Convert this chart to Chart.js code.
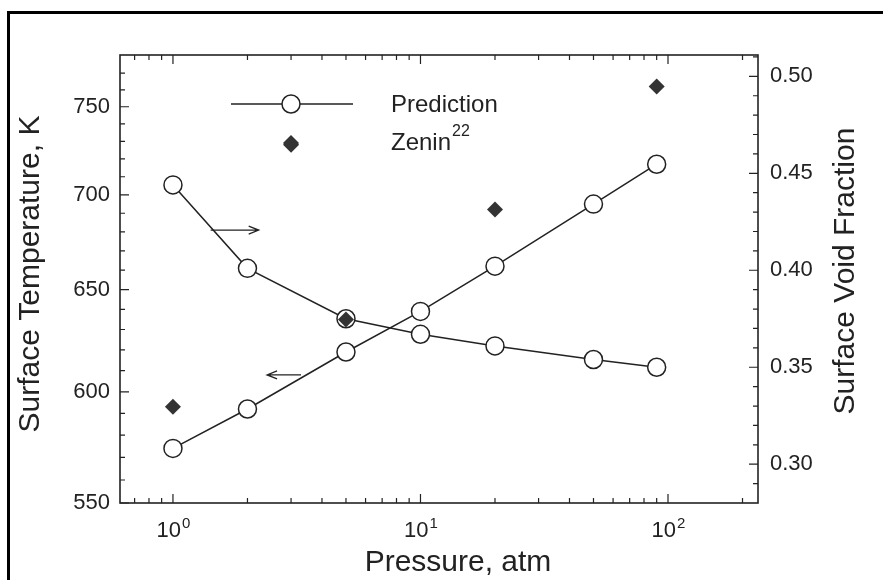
<!DOCTYPE html>
<html>
<head>
<meta charset="utf-8">
<title>Surface temperature and void fraction vs pressure</title>
<script src="https://cdn.jsdelivr.net/npm/chart.js@4.4.0/dist/chart.umd.min.js"></script>
<style>
	body { margin: 0; background: #fff; }
	#wrap { width: 883px; height: 580px; }
</style>
</head>
<body>
<div id="wrap"><canvas id="chart" width="883" height="580"></canvas></div>
<script>
// values
const pressure = [1, 2, 5, 10, 20, 50, 90];
const surfaceTemp = [574, 592, 619, 639, 662, 695, 717];
const voidFraction = [0.444, 0.401, 0.375, 0.367, 0.361, 0.354, 0.350];
const zeninPressure = [1, 3, 5, 20, 90];
const zeninTemp = [593, 728, 635, 692, 762];

const pressureTicks = [1, 10, 100];
const pressureExponents = ['0', '1', '2'];
const pressureMinor = [0.7, 0.8, 0.9, 2, 3, 4, 5, 6, 7, 8, 9, 20, 30, 40, 50, 60, 70, 80, 90, 200];
const tempTicks = [550, 600, 650, 700, 750];
const tempMinor = [560, 570, 580, 590, 610, 620, 630, 640, 660, 670, 680, 690, 710, 720, 730, 740, 760, 770];
const voidTicks = [0.30, 0.35, 0.40, 0.45, 0.50];
const voidMinor = [0.29, 0.31, 0.32, 0.33, 0.34, 0.36, 0.37, 0.38, 0.39, 0.41, 0.42, 0.43, 0.44, 0.46, 0.47, 0.48, 0.49, 0.51];

// little arrows telling which axis each curve uses (pressure, temperature)
const arrowFrom = [[1.42, 681], [3.29, 608]];
const arrowTo = [[2.22, 681], [2.4, 608]];

const ink = '#222';
const fontFamily = '"Liberation Sans", Arial, sans-serif';
const tickFont = { family: fontFamily, size: 22 };
const titleFont = '30px ' + fontFamily;

const drawArrow = (ctx, x1, y, x2) => {
	const dir = x2 > x1 ? 1 : -1;
	ctx.beginPath();
	ctx.moveTo(x1, y);
	ctx.lineTo(x2, y);
	ctx.moveTo(x2 - dir * 10, y - 4);
	ctx.lineTo(x2, y);
	ctx.lineTo(x2 - dir * 10, y + 4);
	ctx.stroke();
};

const drawVertical = (ctx, text, x, y) => {
	ctx.save();
	ctx.translate(x, y);
	ctx.rotate(-Math.PI / 2);
	ctx.fillText(text, 0, 0);
	ctx.restore();
};

// "10" with a raised exponent, centred on x
const drawPower = (ctx, exp, x, baseline) => {
	ctx.font = '22px ' + fontFamily;
	let w = ctx.measureText('10').width;
	ctx.font = '15px ' + fontFamily;
	let e = ctx.measureText(exp).width;
	let start = x - (w + e) / 2;
	ctx.textAlign = 'left';
	ctx.textBaseline = 'alphabetic';
	ctx.font = '22px ' + fontFamily;
	ctx.fillText('10', start, baseline);
	ctx.font = '15px ' + fontFamily;
	ctx.fillText(exp, start + w + 1, baseline - 9);
};

const plotDecor = {
	id: 'plotDecor',
	beforeDraw(chart) {
		const { ctx, width, height } = chart;
		ctx.save();
		ctx.fillStyle = '#fff';
		ctx.fillRect(0, 0, width, height);
		// scan frame, top and left only
		ctx.fillStyle = '#000';
		ctx.fillRect(7, 11, width - 7, 3);
		ctx.fillRect(7, 11, 3, height - 11);
		ctx.restore();
	},
	beforeDatasetsDraw(chart) {
		const { ctx, chartArea: a, scales } = chart;
		ctx.save();
		ctx.strokeStyle = ink;
		ctx.lineWidth = 1.6;
		ctx.strokeRect(a.left, a.top, a.right - a.left, a.bottom - a.top);
		ctx.lineWidth = 1.2;
		ctx.beginPath();
		const xTick = (v, len) => {
			let px = scales.x.getPixelForValue(v);
			ctx.moveTo(px, a.bottom);
			ctx.lineTo(px, a.bottom - len);
			ctx.moveTo(px, a.top);
			ctx.lineTo(px, a.top + len);
		};
		const leftTick = (v, len) => {
			let py = scales.yT.getPixelForValue(v);
			ctx.moveTo(a.left, py);
			ctx.lineTo(a.left + len, py);
		};
		const rightTick = (v, len) => {
			let py = scales.yV.getPixelForValue(v);
			ctx.moveTo(a.right, py);
			ctx.lineTo(a.right - len, py);
		};
		pressureTicks.forEach((v) => xTick(v, 9));
		pressureMinor.forEach((v) => xTick(v, 5));
		tempTicks.forEach((v) => leftTick(v, 9));
		tempMinor.forEach((v) => leftTick(v, 5));
		voidTicks.forEach((v) => rightTick(v, 9));
		voidMinor.forEach((v) => rightTick(v, 5));
		ctx.stroke();
		ctx.restore();
	},
	afterDraw(chart) {
		const { ctx, chartArea: a, scales } = chart;
		ctx.save();
		ctx.strokeStyle = ink;
		ctx.lineWidth = 1.3;
		arrowFrom.forEach((p, i) => {
			drawArrow(ctx,
				scales.x.getPixelForValue(p[0]),
				scales.yT.getPixelForValue(p[1]),
				scales.x.getPixelForValue(arrowTo[i][0]));
		});

		// legend
		const lx = a.left + 111;
		const ly = a.top + 49;
		ctx.lineWidth = 1.5;
		ctx.beginPath();
		ctx.moveTo(lx, ly);
		ctx.lineTo(lx + 122, ly);
		ctx.stroke();
		ctx.beginPath();
		ctx.arc(lx + 60, ly, 9, 0, Math.PI * 2);
		ctx.fillStyle = '#fff';
		ctx.fill();
		ctx.stroke();
		ctx.fillStyle = '#333';
		ctx.beginPath();
		ctx.moveTo(lx + 60, ly + 31);
		ctx.lineTo(lx + 68, ly + 39);
		ctx.lineTo(lx + 60, ly + 47);
		ctx.lineTo(lx + 52, ly + 39);
		ctx.closePath();
		ctx.fill();

		ctx.fillStyle = ink;
		ctx.font = '24px ' + fontFamily;
		ctx.textAlign = 'left';
		ctx.textBaseline = 'middle';
		ctx.fillText('Prediction', lx + 160, ly + 1);
		ctx.fillText('Zenin', lx + 160, ly + 39);
		let zw = ctx.measureText('Zenin').width;
		ctx.font = '16px ' + fontFamily;
		ctx.fillText('22', lx + 161 + zw, ly + 28);

		// pressure tick labels
		pressureTicks.forEach((v, i) => {
			drawPower(ctx, pressureExponents[i], scales.x.getPixelForValue(v), a.bottom + 34);
		});

		// axis titles
		ctx.font = titleFont;
		ctx.textAlign = 'center';
		ctx.textBaseline = 'middle';
		ctx.fillText('Pressure, atm', 458, 563);
		drawVertical(ctx, 'Surface Temperature, K', 31, 274);
		drawVertical(ctx, 'Surface Void Fraction', 846, 271);
		ctx.restore();
	}
};

const LoadChart = () => {
	let ctx = document.getElementById('chart').getContext('2d');
	let myChart = new Chart(ctx, {
		type: 'line',
		data: {
			datasets: [
				{
					label: 'Zenin',
					data: zeninPressure.map((p, i) => ({ x: p, y: zeninTemp[i] })),
					yAxisID: 'yT',
					showLine: false,
					pointStyle: 'rectRot',
					pointRadius: 8,
					pointBackgroundColor: '#333',
					pointBorderColor: '#333',
					pointBorderWidth: 0
				},
				{
					label: 'Prediction (temperature)',
					data: pressure.map((p, i) => ({ x: p, y: surfaceTemp[i] })),
					yAxisID: 'yT',
					borderColor: ink,
					borderWidth: 1.5,
					tension: 0,
					pointRadius: 9,
					pointBackgroundColor: '#fff',
					pointBorderColor: ink,
					pointBorderWidth: 1.5
				},
				{
					label: 'Prediction (void fraction)',
					data: pressure.map((p, i) => ({ x: p, y: voidFraction[i] })),
					yAxisID: 'yV',
					borderColor: ink,
					borderWidth: 1.5,
					tension: 0,
					pointRadius: 9,
					pointBackgroundColor: '#fff',
					pointBorderColor: ink,
					pointBorderWidth: 1.5
				}
			]
		},
		options: {
			responsive: false,
			animation: false,
			devicePixelRatio: 1,
			layout: { padding: { left: 14, right: 0, top: 55, bottom: 0 } },
			scales: {
				x: {
					type: 'logarithmic',
					position: 'bottom',
					min: 0.611,
					max: 231,
					bounds: 'data',
					grid: { display: false, drawTicks: false },
					border: { display: false },
					afterBuildTicks: (s) => { s.ticks = pressureTicks.map((v) => ({ value: v })); },
					afterFit: (s) => { s.height = 77; },
					ticks: { display: false }
				},
				yT: {
					type: 'logarithmic',
					position: 'left',
					min: 550,
					max: 781,
					bounds: 'data',
					grid: { display: false, drawTicks: false },
					border: { display: false },
					afterBuildTicks: (s) => { s.ticks = tempTicks.map((v) => ({ value: v })); },
					afterFit: (s) => { s.width = 106; },
					ticks: {
						autoSkip: false,
						padding: 10,
						color: ink,
						font: tickFont,
						callback: (v) => String(v)
					}
				},
				yV: {
					type: 'linear',
					position: 'right',
					min: 0.28,
					max: 0.511,
					bounds: 'data',
					grid: { display: false, drawTicks: false },
					border: { display: false },
					afterBuildTicks: (s) => { s.ticks = voidTicks.map((v) => ({ value: v })); },
					afterFit: (s) => { s.width = 125; },
					ticks: {
						autoSkip: false,
						padding: 12,
						color: ink,
						font: tickFont,
						callback: (v) => v.toFixed(2)
					}
				}
			},
			plugins: {
				legend: { display: false },
				tooltip: { enabled: false }
			}
		},
		plugins: [plotDecor]
	});
};

LoadChart();
</script>
</body>
</html>
